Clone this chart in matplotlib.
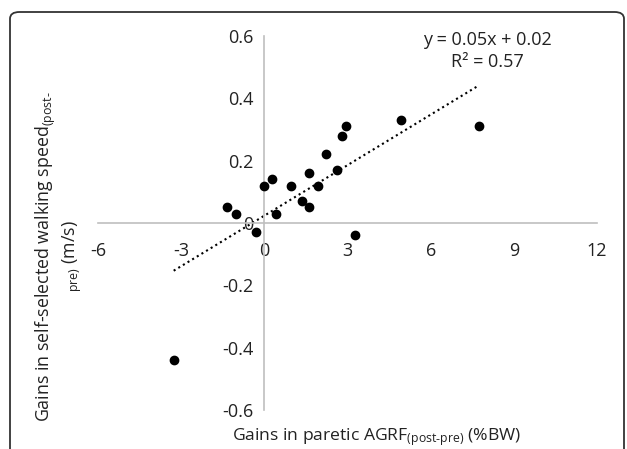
import numpy as np
import matplotlib
matplotlib.use("Agg")
import matplotlib.pyplot as plt
from matplotlib.patches import FancyBboxPatch

# Data
agrf_gain = [-3.27, -1.35, -1.01, -0.31, 0.00, 0.29, 0.41, 0.96, 1.37, 1.60, 1.60,
             1.92, 2.23, 2.62, 2.80, 2.96, 3.28, 4.93, 7.73]
speed_gain = [-0.44, 0.05, 0.03, -0.03, 0.12, 0.14, 0.03, 0.12, 0.07, 0.16, 0.05,
              0.12, 0.22, 0.17, 0.28, 0.31, -0.04, 0.33, 0.31]
x_ticks = [-6, -3, 0, 3, 6, 9, 12]
y_ticks = [-0.6, -0.4, -0.2, 0, 0.2, 0.4, 0.6]
x_ticklabels = ["-6", "-3", "0", "3", "6", "9", "12"]
y_ticklabels = ["-0.6", "-0.4", "-0.2", "0", "0.2", "0.4", "0.6"]
equation = "y = 0.05x + 0.02"
r2_text = "R² = 0.57"

plt.rcParams['font.family'] = ['Open Sans', 'DejaVu Sans']
plt.rcParams['mathtext.default'] = 'regular'

W, H = 627, 449
fig = plt.figure(figsize=(W / 100, H / 100), dpi=100)

# Chart-area frame (rounded, bottom cut off)
frame = FancyBboxPatch((10 / W, -0.1), (614 / W), 1.1 - 12 / H,
                       boxstyle="round,pad=0,rounding_size=0.015",
                       transform=fig.transFigure, fill=False,
                       edgecolor="#333333", linewidth=1.3)
fig.patches.append(frame)

ax = fig.add_axes([98 / W, 39 / H, 499 / W, 374 / H])
ax.set_xlim(-6, 12)
ax.set_ylim(-0.6, 0.6)

for s in ['top', 'right']:
    ax.spines[s].set_visible(False)
ax.spines['left'].set_position(('data', 0))
ax.spines['bottom'].set_position(('data', 0))
for s in ['left', 'bottom']:
    ax.spines[s].set_color('#BFBFBF')
    ax.spines[s].set_linewidth(1.2)

ax.set_xticks(x_ticks)
ax.set_xticklabels(x_ticklabels)
ax.set_yticks(y_ticks)
ax.set_yticklabels(y_ticklabels)
ax.tick_params(axis='both', length=0, labelsize=13, colors='#222222')
ax.tick_params(axis='x', pad=14)
ax.tick_params(axis='y', pad=8)

ax.scatter(agrf_gain, speed_gain, s=36, color='black', zorder=3)

# Linear trend line
xa = np.array(agrf_gain)
ya = np.array(speed_gain)
m, b = np.polyfit(xa, ya, 1)
xs = np.array([xa.min(), xa.max()])
ax.plot(xs, m * xs + b, linestyle=(0, (1, 1.6)), color='black', linewidth=1.5, zorder=2)

fig.text(487 / W, 1 - 40 / H, equation, ha='center', va='center', fontsize=13, color='#222222')
fig.text(487 / W, 1 - 62 / H, r2_text, ha='center', va='center', fontsize=13, color='#222222')

fig.text(377 / W, 1 - 437 / H, r"Gains in paretic AGRF$_{(post‐pre)}$ (%BW)",
         ha='center', va='center', fontsize=12.6, color='#222222')
fig.text(46 / W, 1 - 257 / H, r"Gains in self-selected walking speed$_{(post‐}$",
         ha='center', va='center', rotation=90, fontsize=12.8, color='#222222')
fig.text(72 / W, 1 - 256 / H, r"$_{pre)}$ (m/s)",
         ha='center', va='center', rotation=90, fontsize=12.8, color='#222222')

fig.savefig("out.png", dpi=100)
